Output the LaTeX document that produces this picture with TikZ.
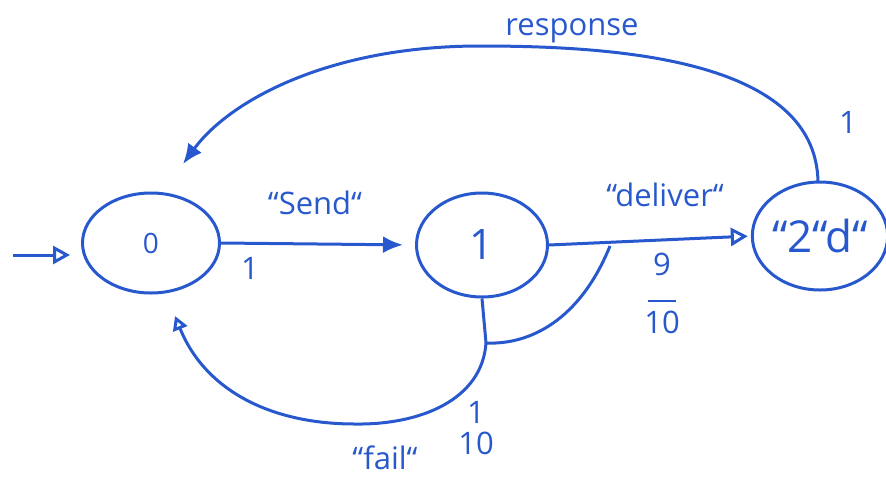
\documentclass[tikz,border=0pt]{standalone}
\usepackage{fontspec}
\setmainfont{Open Sans}
\usetikzlibrary{shapes.geometric,arrows.meta}
\definecolor{ink}{RGB}{40,88,205}
\begin{document}
\begin{tikzpicture}[x=1pt,y=-1pt,
  state/.style={draw=ink,line width=3pt,ellipse,inner sep=0pt,text=ink},
  edge/.style={draw=ink,line width=3pt},
  lbl/.style={text=ink,font=\fontsize{31}{33}\selectfont,inner sep=0pt},
  opentip/.style={-{Triangle[open,length=17pt,width=18pt,line width=3pt]}},
  filltip/.style={-{Latex[length=20pt,width=17pt]}},
]
\useasboundingbox (0,0) rectangle (886,496);

% states
\node[state,minimum width=137pt,minimum height=100pt] (n0) at (151,243) {\fontsize{28}{30}\selectfont 0};
\node[state,minimum width=131pt,minimum height=104pt] (n1) at (482,245) {\fontsize{42}{44}\selectfont 1};
\node[state,minimum width=124pt,minimum height=108pt] (n2) at (820,236) {\fontsize{44}{46}\selectfont “2“d“};

% initial arrow
\coordinate (init) at (13,255);
\draw[edge,opentip,shorten >=11pt] (init) -- (n0.west |- init);

% send
\draw[edge,filltip,shorten >=12pt] (n0.east) -- (n1.west);
\node[lbl] (sendlbl) at (315,203) {“Send“};
\node[lbl] (sendp) at (250,268) {1};

% deliver
\draw[edge,opentip,shorten >=3pt] (n1.east) -- (n2.west);
\node[lbl] (dellbl) at (665,195) {“deliver“};
\node[lbl,align=center] (delp) at (662,293) {9\\[-6pt]\rule{28pt}{2.5pt}\\[-2pt]10};

% fail branch
\coordinate (j) at (610,246);
\coordinate (k) at (486,343);
\draw[edge] (j) .. controls (580,320) and (530,345) .. (k);
\draw[edge] (n1.south) -- (k);
\draw[edge,-{Triangle[open,length=14pt,width=15pt,line width=3pt]}]
  (k) .. controls (482,400) and (420,425) .. (355,424)
      .. controls (270,424) and (205,390) .. (175,316);
\node[lbl] (faillbl) at (385,458) {“fail“};
\node[lbl,align=center] (failp) at (476,428) {1\\[-2pt]10};

% response
\coordinate (r0) at (818,182);
\draw[edge,filltip] (r0) .. controls (816,60) and (620,46) .. (480,46)
      .. controls (330,46) and (230,100) .. (183,164);
\node[lbl] (resplbl) at (572,31) {response};
\node[lbl] (respp) at (848,122) {1};
\end{tikzpicture}
\end{document}
